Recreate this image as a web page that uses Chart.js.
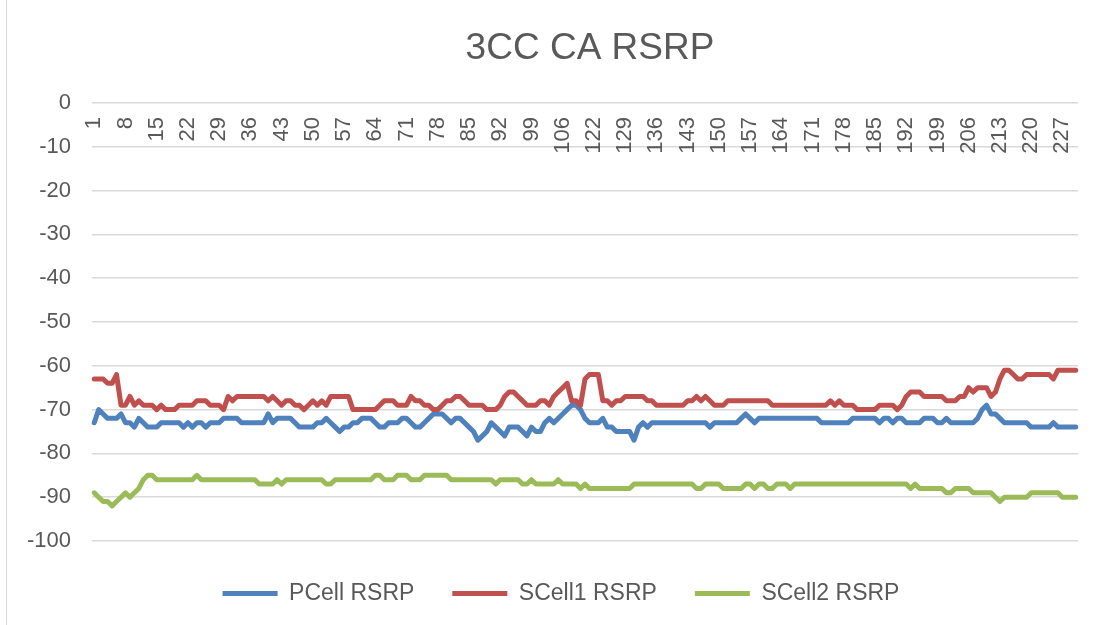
<!DOCTYPE html>
<html>
<head>
<meta charset="utf-8">
<title>3CC CA RSRP</title>
<script src="https://cdn.jsdelivr.net/npm/chart.js@4.4.1/dist/chart.umd.min.js"></script>
<style>
    html, body { margin: 0; padding: 0; background: #fff; }
    #wrap { position: relative; width: 1104px; height: 625px; }
    /* thin chart-area frame line seen on the left edge */
    #wrap:before { content: ''; position: absolute; left: 6px; top: 0; bottom: 0; border-left: 1px solid #d9d9d9; }
</style>
</head>
<body>
<div id="wrap"><canvas id="rsrpChart" width="1104" height="625"></canvas></div>
<script>
// Chart data

// Sample numbers on the category axis (rows 113-121 are missing in the log)
const categories = [];
for (let n = 1; n <= 112; n++) categories.push(String(n));
for (let n = 122; n <= 230; n++) categories.push(String(n));

const yTicks = [0, -10, -20, -30, -40, -50, -60, -70, -80, -90, -100];

const pcellRsrp = [
    -73,-70,-71,-72,-72,-72,-71,-73,-73,-74,
    -72,-73,-74,-74,-74,-73,-73,-73,-73,-73,
    -74,-73,-74,-73,-73,-74,-73,-73,-73,-72,
    -72,-72,-72,-73,-73,-73,-73,-73,-73,-71,
    -73,-72,-72,-72,-72,-73,-74,-74,-74,-74,
    -73,-73,-72,-73,-74,-75,-74,-74,-73,-73,
    -72,-72,-72,-73,-74,-74,-73,-73,-73,-72,
    -72,-73,-74,-74,-73,-72,-71,-71,-71,-72,
    -73,-72,-72,-73,-74,-75,-77,-76,-75,-73,
    -74,-75,-76,-74,-74,-74,-75,-76,-74,-75,
    -75,-73,-72,-73,-72,-71,-70,-69,-69,-70,
    -72,-73,-73,-73,-72,-74,-74,-75,-75,-75,
    -75,-77,-74,-73,-74,-73,-73,-73,-73,-73,
    -73,-73,-73,-73,-73,-73,-73,-73,-74,-73,
    -73,-73,-73,-73,-73,-72,-71,-72,-73,-72,
    -72,-72,-72,-72,-72,-72,-72,-72,-72,-72,
    -72,-72,-72,-73,-73,-73,-73,-73,-73,-73,
    -72,-72,-72,-72,-72,-72,-73,-72,-72,-73,
    -72,-72,-73,-73,-73,-73,-72,-72,-72,-73,
    -73,-72,-73,-73,-73,-73,-73,-73,-72,-70,
    -69,-71,-71,-72,-73,-73,-73,-73,-73,-73,
    -74,-74,-74,-74,-74,-73,-74,-74,-74,-74,
    -74
];

const scell1Rsrp = [
    -63,-63,-63,-64,-64,-62,-69,-69,-67,-69,
    -68,-69,-69,-69,-70,-69,-70,-70,-70,-69,
    -69,-69,-69,-68,-68,-68,-69,-69,-69,-70,
    -67,-68,-67,-67,-67,-67,-67,-67,-67,-68,
    -67,-68,-69,-68,-68,-69,-69,-70,-69,-68,
    -69,-68,-69,-67,-67,-67,-67,-67,-70,-70,
    -70,-70,-70,-70,-69,-68,-68,-68,-69,-69,
    -69,-67,-68,-68,-69,-69,-70,-70,-69,-68,
    -68,-67,-67,-68,-69,-69,-69,-69,-70,-70,
    -70,-69,-67,-66,-66,-67,-68,-69,-69,-69,
    -68,-68,-69,-67,-66,-65,-64,-68,-68,-69,
    -63,-62,-62,-62,-68,-68,-69,-68,-68,-67,
    -67,-67,-67,-67,-68,-68,-69,-69,-69,-69,
    -69,-69,-69,-68,-68,-67,-68,-67,-68,-69,
    -69,-69,-68,-68,-68,-68,-68,-68,-68,-68,
    -68,-68,-69,-69,-69,-69,-69,-69,-69,-69,
    -69,-69,-69,-69,-69,-68,-69,-68,-69,-69,
    -69,-70,-70,-70,-70,-70,-69,-69,-69,-69,
    -70,-69,-67,-66,-66,-66,-67,-67,-67,-67,
    -67,-68,-68,-68,-67,-67,-65,-66,-65,-65,
    -65,-67,-66,-63,-61,-61,-62,-63,-63,-62,
    -62,-62,-62,-62,-62,-63,-61,-61,-61,-61,
    -61
];

const scell2Rsrp = [
    -89,-90,-91,-91,-92,-91,-90,-89,-90,-89,
    -88,-86,-85,-85,-86,-86,-86,-86,-86,-86,
    -86,-86,-86,-85,-86,-86,-86,-86,-86,-86,
    -86,-86,-86,-86,-86,-86,-86,-87,-87,-87,
    -87,-86,-87,-86,-86,-86,-86,-86,-86,-86,
    -86,-86,-87,-87,-86,-86,-86,-86,-86,-86,
    -86,-86,-86,-85,-85,-86,-86,-86,-85,-85,
    -85,-86,-86,-86,-85,-85,-85,-85,-85,-85,
    -86,-86,-86,-86,-86,-86,-86,-86,-86,-86,
    -87,-86,-86,-86,-86,-86,-87,-87,-86,-87,
    -87,-87,-87,-87,-86,-87,-87,-87,-87,-88,
    -87,-88,-88,-88,-88,-88,-88,-88,-88,-88,
    -88,-87,-87,-87,-87,-87,-87,-87,-87,-87,
    -87,-87,-87,-87,-87,-88,-88,-87,-87,-87,
    -87,-88,-88,-88,-88,-88,-87,-87,-88,-87,
    -87,-88,-88,-87,-87,-87,-88,-87,-87,-87,
    -87,-87,-87,-87,-87,-87,-87,-87,-87,-87,
    -87,-87,-87,-87,-87,-87,-87,-87,-87,-87,
    -87,-87,-87,-88,-87,-88,-88,-88,-88,-88,
    -88,-89,-89,-88,-88,-88,-88,-89,-89,-89,
    -89,-89,-90,-91,-90,-90,-90,-90,-90,-90,
    -89,-89,-89,-89,-89,-89,-89,-90,-90,-90,
    -90
];

const seriesNames = ['PCell RSRP', 'SCell1 RSRP', 'SCell2 RSRP'];
const seriesColors = ['#4F81BD', '#C0504D', '#9BBB59'];

// Office-style text settings
const FONT = "'Liberation Sans', Arial, sans-serif";
const TEXT_COLOR = '#595959';
const GRID_COLOR = '#d9d9d9';

// Excel centres the title and legend a little differently from Chart.js,
// so nudge those two boxes after layout
const officeNudge = {
    id: 'officeNudge',
    afterLayout(chart) {
        const lg = chart.legend;
        if (lg) { lg.left += 12; lg.right += 12; lg.top += 3; lg.bottom += 3; }
        const tb = chart.titleBlock;
        if (tb) { tb.left += 5; tb.right += 5; }
    }
};

document.addEventListener('DOMContentLoaded', function() {
    const ctx = document.getElementById('rsrpChart').getContext('2d');

    const makeSeries = (label, data, color, order) => ({
        label: label,
        data: data,
        borderColor: color,
        backgroundColor: color,
        borderWidth: 5,
        borderCapStyle: 'round',
        borderJoinStyle: 'round',
        pointRadius: 0,
        pointHoverRadius: 0,
        tension: 0,
        fill: false,
        order: order // later series drawn on top, like Excel
    });

    new Chart(ctx, {
        type: 'line',
        data: {
            labels: categories,
            datasets: [
                makeSeries(seriesNames[0], pcellRsrp, seriesColors[0], 3),
                makeSeries(seriesNames[1], scell1Rsrp, seriesColors[1], 2),
                makeSeries(seriesNames[2], scell2Rsrp, seriesColors[2], 1)
            ]
        },
        plugins: [officeNudge],
        options: {
            responsive: false,
            animation: false,
            devicePixelRatio: 1,
            layout: { padding: { left: 20, right: 26, top: 0, bottom: 13 } },
            plugins: {
                title: {
                    display: true,
                    text: '3CC CA RSRP',
                    fullSize: false,
                    color: TEXT_COLOR,
                    font: { family: FONT, size: 37, weight: 'normal' },
                    padding: { top: 27, bottom: 31.6 }
                },
                legend: {
                    position: 'bottom',
                    labels: {
                        color: TEXT_COLOR,
                        font: { family: FONT, size: 23 },
                        usePointStyle: true,
                        pointStyle: 'line',
                        pointStyleWidth: 55,
                        padding: 38,
                        sort: (a, b) => a.datasetIndex - b.datasetIndex
                    }
                },
                tooltip: { enabled: false }
            },
            scales: {
                x: {
                    type: 'category',
                    // category axis crosses the value axis at 0, i.e. along the top
                    position: { y: 0 },
                    offset: true,
                    grid: { display: false },
                    border: { display: false },
                    ticks: {
                        autoSkip: false,
                        minRotation: 90,
                        maxRotation: 90,
                        padding: 6,
                        color: TEXT_COLOR,
                        font: { family: FONT, size: 22 },
                        callback: function(value, index) {
                            return index % 7 === 0 ? this.getLabelForValue(value) : null;
                        }
                    }
                },
                y: {
                    min: yTicks[yTicks.length - 1],
                    max: yTicks[0],
                    afterFit: function(scale) { scale.width = 72; },
                    afterBuildTicks: function(scale) {
                        scale.ticks = yTicks.map(v => ({ value: v }));
                    },
                    grid: { color: GRID_COLOR, lineWidth: 1.5, drawTicks: false },
                    border: { display: false },
                    ticks: {
                        padding: 21,
                        color: TEXT_COLOR,
                        font: { family: FONT, size: 22 }
                    }
                }
            }
        }
    });
});
</script>
</body>
</html>
